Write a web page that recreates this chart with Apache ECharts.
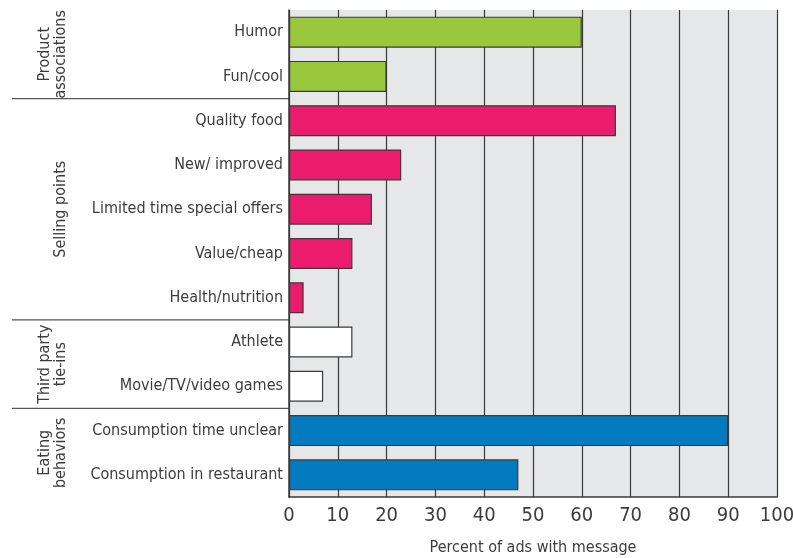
<!DOCTYPE html>
<html lang="en">
<head>
    <meta charset="UTF-8">
    <title>Percent of ads with message</title>
    <script src="https://cdn.jsdelivr.net/npm/echarts@6.0.0/dist/echarts.min.js"></script>
    <style>
        body { margin: 0; background: #fff; }
        #chart { width: 793px; height: 558px; }
    </style>
</head>
<body>
    <div id="chart"></div>
    <script>
        // data
        const categories = ['Humor', 'Fun/cool', 'Quality food', 'New/ improved', 'Limited time special offers',
            'Value/cheap', 'Health/nutrition', 'Athlete', 'Movie/TV/video games',
            'Consumption time unclear', 'Consumption in restaurant'];
        const values = [60, 20, 67, 23, 17, 13, 3, 13, 7, 90, 47];
        const groupNames = ['Product\nassociations', 'Selling points', 'Third party\ntie-ins', 'Eating\nbehaviors'];
        const groupSizes = [2, 5, 2, 2];
        const groupColors = ['#9ac83d', '#ec1c6c', '#ffffff', '#037bc1'];
        const xTicks = [0, 10, 20, 30, 40, 50, 60, 70, 80, 90, 100];

        const font = "'DejaVu Sans Condensed', 'Liberation Sans Narrow', sans-serif";
        const textColor = '#3c3c3c';

        // colour of each bar follows its group
        const barColors = [];
        groupSizes.forEach((n, g) => { for (let k = 0; k < n; k++) barColors.push(groupColors[g]); });

        const chart = echarts.init(document.getElementById('chart'));
        const option = {
            animation: false,
            grid: {
                left: 289, right: 16, top: 10, bottom: 61,
                outerBoundsMode: 'none', containLabel: false,
                show: true, backgroundColor: '#e6e7e8', borderWidth: 0
            },
            xAxis: {
                type: 'value', min: xTicks[0], max: xTicks[xTicks.length - 1], interval: 10,
                name: 'Percent of ads with message', nameLocation: 'middle', nameGap: 43,
                nameTextStyle: { fontFamily: font, fontSize: 16, color: textColor },
                axisLine: { show: true, lineStyle: { color: '#3a3a3a', width: 1.5 } },
                axisTick: { show: false },
                axisLabel: { fontFamily: font, fontSize: 20, color: textColor, margin: 9 },
                splitLine: { show: true, lineStyle: { color: '#3a3a3a', width: 1.2 } }
            },
            yAxis: {
                type: 'category', data: categories, inverse: true,
                axisLine: { show: true, lineStyle: { color: '#3a3a3a', width: 1.5 } },
                axisTick: { show: false },
                axisLabel: { fontFamily: font, fontSize: 16, color: textColor, margin: 6 }
            },
            series: [{
                type: 'bar',
                barWidth: '70%',
                data: values.map((v, i) => ({ value: v, itemStyle: { color: barColors[i] } })),
                itemStyle: { borderColor: '#3a3a3a', borderWidth: 1.2 }
            }]
        };
        chart.setOption(option);

        // group separators and rotated group labels
        const centers = categories.map(c => chart.convertToPixel({ yAxisIndex: 0 }, c));
        const step = centers[1] - centers[0];
        const graphics = [];
        let start = 0;
        groupSizes.forEach((n, g) => {
            const top = centers[start] - step / 2;
            const bottom = centers[start + n - 1] + step / 2;
            if (g > 0) {
                graphics.push({
                    type: 'line',
                    shape: { x1: 12, y1: top, x2: 290, y2: top },
                    style: { stroke: '#555', lineWidth: 1.2 }
                });
            }
            graphics.push({
                type: 'text',
                x: 69, y: (top + bottom) / 2,
                rotation: Math.PI / 2,
                style: {
                    text: groupNames[g], fontFamily: font, fontSize: 16, fill: textColor,
                    align: 'center', verticalAlign: 'bottom', lineHeight: 16
                }
            });
            start += n;
        });
        chart.setOption({ graphic: graphics });
    </script>
</body>
</html>
